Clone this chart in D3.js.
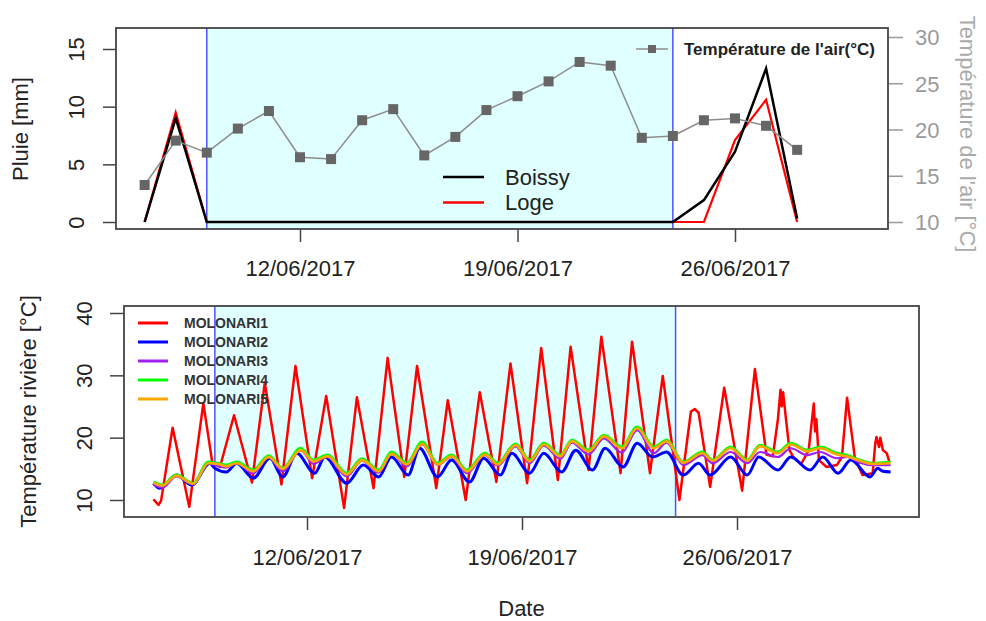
<!DOCTYPE html>
<html><head><meta charset="utf-8">
<script src="https://cdn.jsdelivr.net/npm/d3@7"></script>
<style>
body{margin:0;background:#fff}
text{font-family:"Liberation Sans",Arial,Helvetica,sans-serif}
</style>
</head><body>
<svg id="c" width="986" height="621"></svg>
<script>
// ---------------- DATA ----------------
const days = ["2017-06-07","2017-06-08","2017-06-09","2017-06-10","2017-06-11","2017-06-12","2017-06-13",
  "2017-06-14","2017-06-15","2017-06-16","2017-06-17","2017-06-18","2017-06-19","2017-06-20","2017-06-21",
  "2017-06-22","2017-06-23","2017-06-24","2017-06-25","2017-06-26","2017-06-27","2017-06-28"];
const rainBoissy = [0,9.0,0,0,0,0,0,0,0,0,0,0,0,0,0,0,0,0,1.9,6.1,13.3,0.3];
const rainLoge   = [0,9.5,0,0,0,0,0,0,0,0,0,0,0,0,0,0,0,0,0,7.1,10.6,0];
const airTemp    = [14.0,18.8,17.5,20.1,22.0,17.0,16.8,21.0,22.2,17.2,19.2,22.1,23.6,25.2,27.3,26.9,19.1,19.3,21.0,21.2,20.4,17.8];

const periodStart = "2017-06-09", periodEnd = "2017-06-24";
const dateTicks = ["2017-06-12","2017-06-19","2017-06-26"];
const rainTicks = [0,5,10,15];
const airTicks = [10,15,20,25,30];
const riverTicks = [10,20,30,40];
const rainNames = ["Boissy","Loge"];
const airName = "Température de l'air(°C)";
const riverStart = "2017-06-07";  // hours below are counted from this date 00:00
const riverNames = ["MOLONARI1","MOLONARI2","MOLONARI3","MOLONARI4","MOLONARI5"];

// [hour, °C]
const molonari1 = [[0,10.1],[4,9.2],[6,9.9],[15,21.6],[28,8.9],[39,25.5],[46,16.0],[52,15.3],[63,23.6],[77,12.8],[87,28.8],
 [100,12.5],[111,31.5],[124,13.5],[135,26.7],[149,8.7],[159,26.5],[172,11.9],[183,32.8],[196,13.7],[206,31.5],
 [221,11.9],[230,26.0],[244,10.0],[255,27.3],[268,12.9],[279,31.9],[292,12.7],[303,34.4],[316,13.2],[326,34.6],
 [340,14.8],[350,36.2],[365,14.3],[374,35.4],[388,14.3],[398,29.9],[411,10.0],[420,24.2],[423,24.6],[426,24.0],
 [435,12.1],[446,28.0],[460,11.5],[470,31.0],[479,17.3],[484,17.0],[488,23.0],[490,27.7],[491,25.0],[492,27.3],
 [494,23.5],[497,18.0],[500,16.9],[506,15.7],[512,18.0],[516,25.5],[517,21.0],[518,23.0],[520,16.4],[526,15.3],
 [534,15.6],[538,16.9],[542,26.4],[546,20.1],[548,16.9],[554,14.0],[562,14.3],[564,19.0],[565,20.1],[567,18.5],
 [568,20.0],[570,18.0],[573,17.5],[575,16.2]];
const molonari2 = [[0,12.7],[5,11.9],[18,14.0],[30,12.4],[44,15.9],[48,15.1],[57,14.5],[65,15.9],[78,13.5],[91,16.7],
 [101,13.7],[112,17.5],[126,14.3],[134,16.9],[151,12.7],[164,15.6],[176,13.7],[186,16.9],[199,14.0],[208,18.3],
 [222,13.7],[233,16.4],[247,12.9],[258,16.7],[271,14.0],[280,17.5],[294,14.3],[305,17.5],[319,14.5],[330,18.0],
 [343,14.8],[353,18.3],[367,15.3],[378,19.1],[390,16.9],[401,17.7],[414,14.0],[426,15.9],[435,14.0],[451,16.9],
 [464,14.0],[473,16.9],[488,14.8],[498,16.9],[513,14.8],[523,16.9],[535,14.3],[545,16.4],[560,13.7],[566,15.1],
 [570,14.6],[576,14.5]];
const molonari3 = [[0,12.5],[7,12.0],[18,13.8],[31,12.5],[43,15.9],[50,15.5],[57,15.2],[65,15.9],[78,14.3],[90,16.8],
 [101,14.6],[115,18.0],[125,15.8],[136,16.9],[151,13.8],[163,16.3],[176,14.4],[186,17.4],[198,15.4],[210,18.9],
 [222,15.6],[233,16.9],[245,14.3],[259,17.2],[269,15.5],[283,18.6],[294,15.9],[305,18.7],[318,16.6],[327,19.2],
 [340,17.3],[352,19.9],[366,17.6],[378,21.2],[391,17.5],[401,19.2],[414,15.6],[429,17.2],[437,15.9],[451,17.7],
 [464,15.9],[474,17.7],[488,16.9],[498,18.3],[511,17.2],[521,17.7],[534,16.7],[542,16.9],[552,16.0],[562,15.6],[576,15.6]];
const molonari4 = [[0,12.9],[7,12.4],[18,14.0],[31,12.7],[43,16.1],[50,15.9],[57,15.6],[65,16.1],[78,14.8],[90,17.1],
 [101,15.1],[115,18.3],[125,16.4],[136,17.2],[151,14.3],[163,16.6],[176,14.8],[186,17.7],[198,15.9],[210,19.3],
 [222,15.9],[233,17.2],[245,14.8],[259,17.5],[269,15.9],[283,19.0],[294,16.4],[305,19.1],[318,17.2],[327,19.6],
 [340,18.0],[352,20.4],[366,18.5],[378,21.7],[391,18.5],[401,19.6],[414,16.1],[429,17.7],[437,16.4],[451,18.5],
 [464,16.4],[474,18.8],[488,17.7],[498,19.1],[511,18.0],[521,18.5],[534,17.5],[542,17.2],[552,16.4],[562,15.9],[576,16.1]];
const molonari5 = [[0,12.8],[7,12.3],[18,13.9],[31,12.6],[43,15.9],[50,15.8],[57,15.4],[65,15.9],[78,14.6],[90,16.9],
 [101,15.0],[115,18.0],[125,16.2],[136,17.0],[151,14.1],[163,16.4],[176,14.6],[186,17.4],[198,15.7],[210,19.0],
 [222,15.7],[233,17.0],[245,14.6],[259,17.3],[269,15.7],[283,18.8],[294,16.2],[305,18.9],[318,17.0],[327,19.4],
 [340,17.8],[352,20.2],[366,18.3],[378,21.5],[391,18.3],[401,19.4],[414,16.0],[429,17.5],[437,16.3],[451,18.3],
 [464,16.3],[474,18.6],[488,17.5],[498,18.9],[511,17.8],[521,18.3],[534,17.3],[542,17.0],[552,16.3],[562,15.8],[576,15.9]];

// ---------------- CHART ----------------
const svg = d3.select("#c");
const parse = d3.timeParse("%Y-%m-%d");
const fmt = d3.timeFormat("%d/%m/%Y");
const FONT = '"Liberation Sans",Arial,Helvetica,sans-serif';
const axisCol = "#444", textCol = "#222";

function styleAxis(g, col){
  g.attr("font-family", FONT).attr("font-size", 22);
  g.select(".domain").remove();
  g.selectAll(".tick line").attr("stroke", col || axisCol).attr("stroke-width", 1.5);
  g.selectAll(".tick text").attr("fill", col || textCol);
}
function rotateLabels(g, off){
  g.selectAll(".tick text").attr("x",0).attr("y",0).attr("dy","0.36em")
   .attr("text-anchor","middle").attr("transform",`translate(${off},0) rotate(-90)`);
}

// ===== TOP PANEL =====
const T = {l:116, r:888, t:28, b:229};
const xTop = d3.scaleTime().domain([parse("2017-06-12"), parse("2017-06-26")]).range([300, 735]);
const yRain = d3.scaleLinear().domain([0,15]).range([222, 49]);
const yAir = d3.scaleLinear().domain([10,30]).range([222, 37]);

const topG = svg.append("g");
topG.append("rect").attr("x", xTop(parse(periodStart))).attr("y", T.t)
  .attr("width", xTop(parse(periodEnd)) - xTop(parse(periodStart))).attr("height", T.b - T.t)
  .attr("fill", "#e0ffff");
[periodStart, periodEnd].forEach(d => topG.append("line")
  .attr("x1", xTop(parse(d))).attr("x2", xTop(parse(d))).attr("y1", T.t).attr("y2", T.b)
  .attr("stroke", "#5050ff").attr("stroke-width", 1.5));

const rainLine = vals => d3.line().x((d,i)=>xTop(parse(days[i]))).y(d=>yRain(d))(vals);
topG.append("path").attr("d", rainLine(rainLoge)).attr("fill","none").attr("stroke","#ff0000").attr("stroke-width",2.2);
topG.append("path").attr("d", rainLine(rainBoissy)).attr("fill","none").attr("stroke","#000").attr("stroke-width",2.5);

const airLine = d3.line().x((d,i)=>xTop(parse(days[i]))).y(d=>yAir(d));
topG.append("path").attr("d", airLine(airTemp)).attr("fill","none").attr("stroke","#8c8c8c").attr("stroke-width",1.5);
topG.selectAll("rect.m").data(airTemp).enter().append("rect").attr("class","m")
  .attr("x",(d,i)=>xTop(parse(days[i]))-5).attr("y",d=>yAir(d)-5).attr("width",10).attr("height",10)
  .attr("fill","#666");

// axes top
const gTL = topG.append("g").attr("transform",`translate(${T.l},0)`)
  .call(d3.axisLeft(yRain).tickValues(rainTicks).tickSize(13).tickFormat(d3.format("d")));
styleAxis(gTL); rotateLabels(gTL, -40);
const gTR = topG.append("g").attr("transform",`translate(${T.r},0)`)
  .call(d3.axisRight(yAir).tickValues(airTicks).tickSize(15).tickPadding(12).tickFormat(d3.format("d")));
styleAxis(gTR, "#9a9a9a");
gTR.selectAll(".tick text").attr("dy","0.36em");
const gTB = topG.append("g").attr("transform",`translate(0,${T.b})`)
  .call(d3.axisBottom(xTop).tickValues(dateTicks.map(parse)).tickSize(13).tickPadding(18).tickFormat(fmt));
styleAxis(gTB);
topG.append("rect").attr("x",T.l).attr("y",T.t).attr("width",T.r-T.l).attr("height",T.b-T.t)
  .attr("fill","none").attr("stroke",axisCol).attr("stroke-width",1.8);

// titles top
svg.append("text").attr("transform","translate(20,129) rotate(-90)").attr("text-anchor","middle")
  .attr("dy","0.36em").attr("font-size",22).attr("fill",textCol).text("Pluie [mm]");
svg.append("text").attr("transform","translate(968,134) rotate(90)").attr("text-anchor","middle")
  .attr("dy","0.36em").attr("font-size",22).attr("fill","#aaaaaa").text("Température de l'air [°C]");

// legend air
topG.append("line").attr("x1",636).attr("x2",668).attr("y1",49).attr("y2",49).attr("stroke","#8c8c8c").attr("stroke-width",1.5);
topG.append("rect").attr("x",648).attr("y",45).attr("width",8).attr("height",8).attr("fill","#666");
topG.append("text").attr("x",684).attr("y",49).attr("dy","0.36em").attr("font-size",17).attr("font-weight","bold")
  .attr("fill",textCol).text(airName);
// legend rain
const rainCols = ["#000","#ff0000"];
rainNames.forEach((n,i)=>{
  const y = 177 + i*25.5;
  topG.append("line").attr("x1",443).attr("x2",484).attr("y1",y).attr("y2",y).attr("stroke",rainCols[i]).attr("stroke-width",2.5);
  topG.append("text").attr("x",505).attr("y",y).attr("dy","0.36em").attr("font-size",22).attr("fill",textCol).text(n);
});

// ===== BOTTOM PANEL =====
const B = {l:124, r:919, t:306, b:517};
const xBot = d3.scaleTime().domain([parse("2017-06-12"), parse("2017-06-26")]).range([307, 737]);
const yRiv = d3.scaleLinear().domain([10,40]).range([500, 313]);
const t0 = parse(riverStart);

const botG = svg.append("g");
botG.append("rect").attr("x", xBot(parse(periodStart))).attr("y", B.t)
  .attr("width", xBot(parse(periodEnd)) - xBot(parse(periodStart))).attr("height", B.b - B.t)
  .attr("fill", "#e0ffff");
[periodStart, periodEnd].forEach(d => botG.append("line")
  .attr("x1", xBot(parse(d))).attr("x2", xBot(parse(d))).attr("y1", B.t).attr("y2", B.b)
  .attr("stroke", "#5050ff").attr("stroke-width", 1.5));

const rivData = [molonari1, molonari2, molonari3, molonari4, molonari5];
const rivCols = ["#ff0000","#0000ff","#a020f0","#00ff00","#ffa500"];
const rivW = [2.5, 3, 2.2, 3, 2.6];
rivData.forEach((s,i)=>{
  const ln = d3.line().x(d=>xBot(d3.timeHour.offset(t0, d[0]))).y(d=>yRiv(d[1]))
    .curve(i === 0 ? d3.curveLinear : d3.curveMonotoneX);
  botG.append("path").attr("d", ln(s)).attr("fill","none")
    .attr("stroke", rivCols[i]).attr("stroke-width", rivW[i]).attr("stroke-linejoin","round");
});

const gBL = botG.append("g").attr("transform",`translate(${B.l},0)`)
  .call(d3.axisLeft(yRiv).tickValues(riverTicks).tickSize(14).tickFormat(d3.format("d")));
styleAxis(gBL); rotateLabels(gBL, -40);
const gBB = botG.append("g").attr("transform",`translate(0,${B.b})`)
  .call(d3.axisBottom(xBot).tickValues(dateTicks.map(parse)).tickSize(13).tickPadding(19).tickFormat(fmt));
styleAxis(gBB);
botG.append("rect").attr("x",B.l).attr("y",B.t).attr("width",B.r-B.l).attr("height",B.b-B.t)
  .attr("fill","none").attr("stroke",axisCol).attr("stroke-width",1.8);

svg.append("text").attr("transform",`translate(28,${(B.t+B.b)/2}) rotate(-90)`).attr("text-anchor","middle")
  .attr("dy","0.36em").attr("font-size",22).attr("fill",textCol).text("Température rivière [°C]");
svg.append("text").attr("x",(B.l+B.r)/2).attr("y",608).attr("text-anchor","middle")
  .attr("dy","0.36em").attr("font-size",22).attr("fill",textCol).text("Date");

// legend river
riverNames.forEach((n,i)=>{
  const y = 323 + i*19;
  botG.append("line").attr("x1",138).attr("x2",168).attr("y1",y).attr("y2",y).attr("stroke",rivCols[i]).attr("stroke-width",3);
  botG.append("text").attr("x",184).attr("y",y).attr("dy","0.36em").attr("font-size",14).attr("font-weight","bold")
    .attr("fill","#333").text(n);
});
</script>
</body></html>
